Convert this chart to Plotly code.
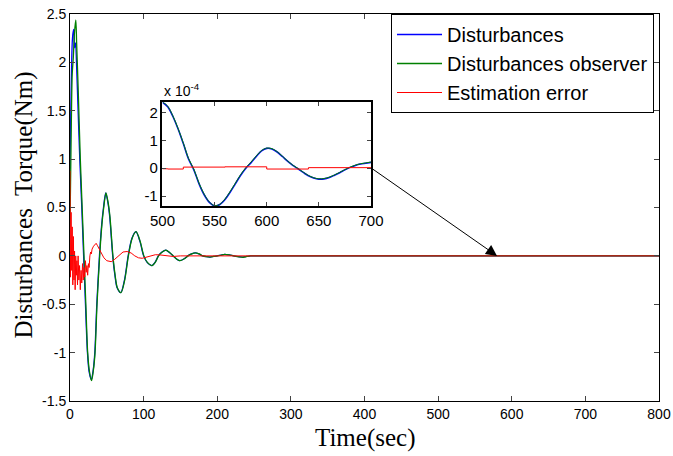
import plotly.graph_objects as go

# ---------------- data ----------------
# main plot: time (s) and torque (Nm)
t_dist = [0, 1, 2, 3, 4, 5.2, 6.2, 7.5, 9, 11, 13.3, 16, 18.5, 21, 23.7, 26, 29, 31.5, 33.7, 36.4, 40,
          43, 45.5, 48.5, 51.5, 54, 58, 61, 64, 69, 74, 79, 84, 89.5, 95, 100, 105, 111, 116, 120,
          125, 130, 135, 140, 145, 149, 155, 160, 165, 170, 175, 180, 185, 190, 195, 200, 205, 210,
          216, 222, 228, 235, 240, 245, 260, 800]
disturbance = [0.9, 1.45, 1.9, 2.2, 2.3, 2.34, 2.15, 2.2, 1.95, 1.5, 1.0, 0.5, 0.0, -0.5, -1.0, -1.2, -1.28,
               -1.18, -1.0, -0.5, 0.0, 0.32, 0.5, 0.65, 0.55, 0.4, 0.0, -0.2, -0.33, -0.38, -0.25, 0.0,
               0.18, 0.25, 0.15, 0.0, -0.07, -0.1, -0.06, 0.0, 0.04, 0.06, 0.035, 0.0, -0.035, -0.05,
               -0.03, 0.0, 0.02, 0.03, 0.02, 0.0, -0.008, -0.012, -0.006, 0.0, 0.008, 0.015, 0.01,
               0.0, -0.008, -0.012, -0.006, 0.0, 0.0, 0.0]
t_obs = [0, 1.5, 3, 4.5, 6, 7.9, 9, 11, 14, 16.5, 19, 21.5, 24, 26.5, 29.3, 31.8, 34, 36.7, 40.3,
         43.3, 45.8, 48.8, 51.8, 54.3, 58.3, 61.3, 64.3, 69.3, 74.3, 79.3, 84.3, 89.8, 95.3, 100.3,
         105.3, 111.3, 116.3, 120.3, 125.3, 130.3, 135.3, 140.3, 145.3, 149.3, 155.3, 160.3, 165.3,
         170.3, 175.3, 180.3, 185.3, 190.3, 195.3, 200.3, 205.3, 210.3, 216.3, 222.3, 228.3,
         235.3, 240.3, 245.3, 260, 800]
observer = [0.3, 1.2, 1.88, 2.05, 2.3, 2.44, 2.2, 1.75, 1.0, 0.5, 0.0, -0.5, -1.0, -1.2, -1.29,
            -1.18, -1.0, -0.5, 0.0, 0.32, 0.5, 0.65, 0.55, 0.4, 0.0, -0.2, -0.33, -0.38, -0.25, 0.0,
            0.18, 0.25, 0.15, 0.0, -0.07, -0.1, -0.06, 0.0, 0.04, 0.06, 0.035, 0.0, -0.035, -0.05,
            -0.03, 0.0, 0.02, 0.03, 0.02, 0.0, -0.008, -0.012, -0.006, 0.0, 0.008, 0.016, 0.01,
            0.0, -0.008, -0.014, -0.006, 0.0, 0.0, 0.0]
t_err = [0, 0.7, 1.5, 2.3, 3, 3.8, 4.6, 5.4, 6.2, 7, 7.8, 8.6, 9.4, 10.2, 11, 12, 13, 14, 15, 16,
         17, 18, 19, 20, 21, 22, 23, 24, 25, 26, 27, 28, 29, 30, 32, 34, 35.5, 37, 40, 43, 46, 50,
         56, 60, 64, 68, 72, 77.5, 83, 88, 93, 98, 104, 110, 116, 122, 130, 140, 150, 160, 800]
est_error = [0.88, -0.22, 0.45, -0.15, 0.3, -0.3, 0.2, -0.25, 0.05, -0.35, 0.0, -0.2, -0.05, -0.3,
             0.0, -0.25, -0.1, -0.35, -0.15, -0.28, -0.08, -0.25, -0.12, -0.22, -0.05, -0.17, -0.1,
             -0.2, -0.08, -0.12, 0.0, 0.04, 0.02, 0.07, 0.1, 0.12, 0.13, 0.11, 0.07, 0.02, -0.02,
             -0.05, -0.06, -0.04, -0.01, 0.02, 0.04, 0.045, 0.03, 0.0, -0.02, -0.025, -0.015, 0.0,
             0.012, 0.01, 0.0, -0.006, 0.0, 0.0, 0.0]

# inset: time (s) 500..700, values in units of 1e-4 Nm
t_zoom = [500, 505, 510, 515, 520, 525, 530, 535, 540, 545, 550, 555, 560, 565, 570, 575, 580,
          585, 590, 595, 600, 605, 610, 615, 620, 625, 630, 635, 640, 645, 650, 655, 660, 665,
          670, 675, 680, 685, 690, 695, 700]
dist_zoom = [2.36, 2.2, 1.85, 1.4, 0.88, 0.33, -0.05, -0.55, -0.95, -1.22, -1.35, -1.3, -1.12,
             -0.85, -0.55, -0.25, 0.0, 0.2, 0.42, 0.62, 0.71, 0.69, 0.58, 0.42, 0.25, 0.1, -0.02,
             -0.15, -0.27, -0.35, -0.39, -0.38, -0.33, -0.25, -0.16, -0.06, 0.03, 0.1, 0.15, 0.18,
             0.21]
obs_zoom = [2.37, 2.22, 1.87, 1.42, 0.9, 0.35, -0.03, -0.53, -0.93, -1.21, -1.34, -1.29, -1.1,
            -0.83, -0.53, -0.23, 0.02, 0.22, 0.44, 0.63, 0.72, 0.7, 0.59, 0.43, 0.26, 0.11, -0.01,
            -0.14, -0.26, -0.34, -0.38, -0.37, -0.32, -0.24, -0.15, -0.05, 0.04, 0.11, 0.16, 0.19,
            0.22]
t_err_zoom = [500, 505, 520, 560, 600, 640, 700]
err_zoom = [-0.02, -0.03, 0.04, 0.05, -0.03, 0.02, 0.02]

x_ticks = [0, 100, 200, 300, 400, 500, 600, 700, 800]
y_ticks = [-1.5, -1, -0.5, 0, 0.5, 1, 1.5, 2, 2.5]
y_tick_text = ["-1.5", "-1", "-0.5", "0", "0.5", "1", "1.5", "2", "2.5"]
xz_ticks = [500, 550, 600, 650, 700]
yz_ticks = [-1, 0, 1, 2]
yz_tick_text = ["-1", "0", "1", "2"]

series_names = ["Disturbances", "Disturbances observer", "Estimation error"]
colors = ["#0000ff", "#008000", "#ff0000"]

# ---------------- figure ----------------
fig = go.Figure()
fig.add_trace(go.Scatter(x=t_dist, y=disturbance, mode="lines", name=series_names[0],
                         line=dict(color=colors[0], width=1.3, shape="spline", smoothing=0.8),
                         legendgroup="a"))
fig.add_trace(go.Scatter(x=t_obs, y=observer, mode="lines", name=series_names[1],
                         line=dict(color=colors[1], width=1.3, shape="spline", smoothing=0.8),
                         legendgroup="b"))
fig.add_trace(go.Scatter(x=t_err, y=est_error, mode="lines", name=series_names[2],
                         line=dict(color=colors[2], width=1), legendgroup="c"))

fig.add_trace(go.Scatter(x=t_zoom, y=dist_zoom, mode="lines", xaxis="x2", yaxis="y2",
                         line=dict(color=colors[0], width=1.6, shape="spline"), showlegend=False))
fig.add_trace(go.Scatter(x=t_zoom, y=obs_zoom, mode="lines", xaxis="x2", yaxis="y2",
                         line=dict(color=colors[1], width=1, shape="spline"), showlegend=False))
fig.add_trace(go.Scatter(x=t_err_zoom, y=err_zoom, mode="lines", xaxis="x2", yaxis="y2",
                         line=dict(color=colors[2], width=1, shape="hv"), showlegend=False))

tick_font = dict(family="Liberation Sans, Arial, sans-serif", size=14, color="black")
inset_font = dict(family="Liberation Sans, Arial, sans-serif", size=15, color="black")
fig.update_layout(
    width=673, height=456,
    margin=dict(l=70, r=14, t=14, b=55),
    paper_bgcolor="white", plot_bgcolor="white",
    showlegend=True,
    legend=dict(x=0.545, y=1.0, xanchor="left", yanchor="top",
                bgcolor="white", bordercolor="black", borderwidth=1,
                font=dict(family="Liberation Sans, Arial, sans-serif", size=20, color="black"),
                tracegroupgap=0, itemwidth=45),
    xaxis=dict(range=[0, 800], tickvals=x_ticks, ticks="inside", ticklen=5, mirror="ticks",
               showline=True, linecolor="black", linewidth=1, showgrid=False, zeroline=False,
               tickfont=tick_font, automargin=False),
    yaxis=dict(range=[-1.5, 2.5], tickvals=y_ticks, ticktext=y_tick_text, ticks="inside",
               ticklen=5, mirror="ticks", showline=True, linecolor="black", linewidth=1,
               showgrid=False, zeroline=False, tickfont=tick_font, automargin=False),
    xaxis2=dict(domain=[0.157, 0.511], anchor="y2", range=[500, 700], tickvals=xz_ticks,
                ticks="inside", ticklen=4, mirror="ticks", showline=True, linecolor="black",
                linewidth=1.5, showgrid=False, zeroline=False, tickfont=inset_font,
                automargin=False),
    yaxis2=dict(domain=[0.504, 0.772], anchor="x2", range=[-1.35, 2.36], tickvals=yz_ticks,
                ticktext=yz_tick_text, ticks="inside", ticklen=4, mirror="ticks", showline=True,
                linecolor="black", linewidth=1.5, showgrid=False, zeroline=False,
                tickfont=inset_font, automargin=False),
)

fig.add_annotation(xref="paper", yref="paper", x=0.5, y=-0.095, yanchor="middle",
                   text="Time(sec)", showarrow=False,
                   font=dict(family="Liberation Serif, Times New Roman, serif", size=25, color="black"))
fig.add_annotation(xref="paper", yref="paper", x=-0.078, y=0.505, xanchor="center",
                   text="Disturbances  Torque(Nm)", textangle=-90, showarrow=False,
                   font=dict(family="Liberation Serif, Times New Roman, serif", size=25, color="black"))
fig.add_annotation(xref="paper", yref="paper", x=0.157, y=0.775, xanchor="left", yanchor="bottom",
                   text="x 10<sup>-4</sup>", showarrow=False,
                   font=dict(family="Liberation Sans, Arial, sans-serif", size=14, color="black"))
fig.add_annotation(x=580, y=0, xref="x", yref="y", text="", showarrow=True,
                   ax=-126, ay=-88, arrowhead=2, arrowsize=2.2, arrowwidth=1, arrowcolor="black")

fig.write_html("out.html", config={"displayModeBar": False},
               post_script="document.body.style.margin='0';")
